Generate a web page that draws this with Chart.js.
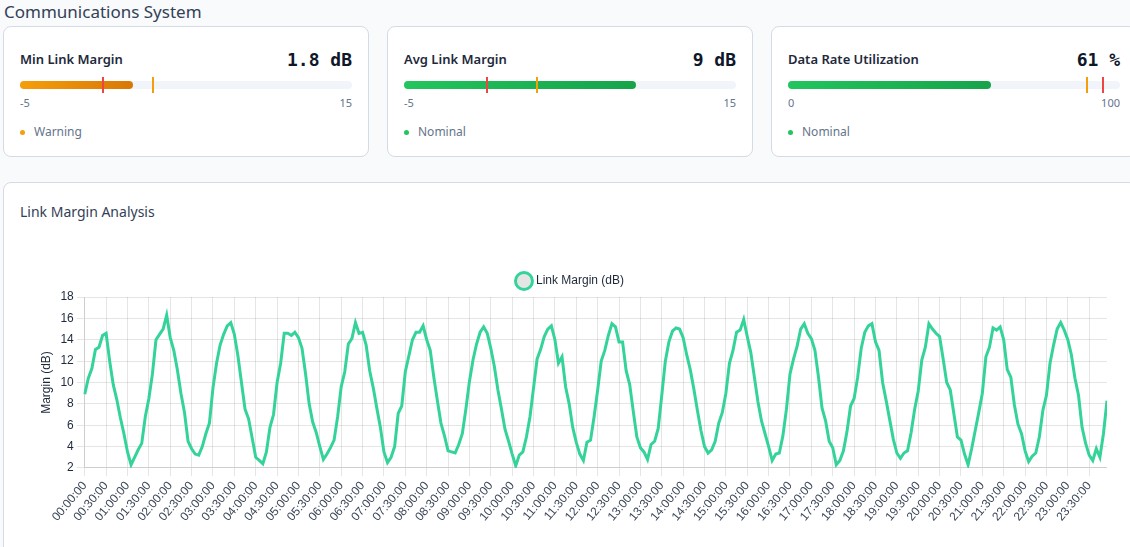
<!DOCTYPE html>
<html>
<head>
<meta charset="utf-8">
<script src="https://cdn.jsdelivr.net/npm/chart.js@4.4.0/dist/chart.umd.min.js"></script>
<style>
  html, body { margin: 0; padding: 0; background: #f8fafc; overflow: hidden; }
  body { width: 1130px; height: 547px; font-family: "Noto Sans", "Open Sans", sans-serif; }
  .page { position: relative; width: 1134px; left: 3px; }
  .head { font-size: 17px; color: #334155; height: 26px; line-height: 24px; margin-left: 1px; }
  .cards { display: flex; gap: 18px; }
  .card { box-sizing: border-box; width: 366px; height: 131px; background: #fff; border: 1px solid #d5dbe4; border-radius: 8px; padding: 20px 16px 16px 16px; }
  .row { display: flex; justify-content: space-between; align-items: center; height: 24px; }
  .name { font-size: 13px; font-weight: 600; color: #1e293b; }
  .val { font-family: "DejaVu Sans Mono", monospace; font-weight: bold; font-size: 18px; color: #0f172a; }
  .bar { position: relative; margin-top: 10px; height: 8px; border-radius: 4px; background: #f1f5f9; }
  .fill { position: absolute; left: 0; top: 0; height: 8px; border-radius: 4px; }
  .mark { position: absolute; top: -4px; width: 2px; height: 16px; }
  .scale { display: flex; justify-content: space-between; margin-top: 7px; font-size: 11px; line-height: 14px; color: #64748b; }
  .status { margin-top: 14px; font-size: 12px; line-height: 16px; color: #64748b; display: flex; align-items: center; }
  .dot { width: 5px; height: 5px; border-radius: 50%; margin-right: 9px; }
  .chartcard { box-sizing: border-box; margin-top: 25px; width: 1134px; height: 400px; background: #fff; border: 1px solid #d5dbe4; border-radius: 8px; padding: 19px 16px 16px 16px; }
  .ctitle { font-size: 14px; line-height: 20px; color: #334155; }
  .cwrap { position: relative; margin-top: 43px; margin-left: 15px; width: 1072px; height: 262px; }
</style>
</head>
<body>
<div class="page">
  <div class="head">Communications System</div>
  <div class="cards" id="cards"></div>
  <div class="chartcard">
    <div class="ctitle">Link Margin Analysis</div>
    <div class="cwrap"><canvas id="margin"></canvas></div>
  </div>
</div>
<script>
// status cards
var cardNames = ['Min Link Margin', 'Avg Link Margin', 'Data Rate Utilization'];
var cardValues = [1.8, 9, 61];
var cardUnits = ['dB', 'dB', '%'];
var cardMin = [-5, -5, 0];
var cardMax = [15, 15, 100];
var cardWarn = [3, 3, 90];
var cardCrit = [0, 0, 95];
var cardStatus = ['Warning', 'Nominal', 'Nominal'];

// link margin chart, one sample every 5 minutes
var marginValues = [
  8.9, 10.4, 11.3, 13.1, 13.3, 14.4, 14.6, 12.0, 9.8, 8.4, 6.7, 5.2,
  3.5, 2.3, 3.0, 3.7, 4.3, 6.8, 8.5, 10.8, 14.0, 14.5, 15.0, 16.3,
  14.2, 13.0, 11.2, 9.0, 7.2, 4.5, 3.8, 3.3, 3.2, 4.0, 5.2, 6.2,
  9.5, 11.8, 13.5, 14.5, 15.3, 15.6, 14.5, 12.5, 10.0, 7.5, 6.6, 4.8,
  3.0, 2.7, 2.4, 3.5, 5.8, 7.0, 10.0, 11.8, 14.6, 14.6, 14.4, 14.7,
  14.2, 13.2, 10.8, 8.0, 6.3, 5.3, 4.0, 2.8, 3.3, 3.9, 4.6, 6.8,
  9.6, 11.0, 13.6, 14.1, 15.6, 14.6, 14.7, 13.5, 11.1, 9.5, 7.6, 5.8,
  3.5, 2.5, 3.0, 4.0, 7.1, 7.8, 11.0, 12.5, 14.0, 14.7, 14.7, 15.3,
  14.0, 13.0, 10.5, 8.3, 6.2, 5.0, 3.6, 3.5, 3.4, 4.2, 5.2, 7.5,
  10.1, 12.1, 13.6, 14.7, 15.2, 14.6, 13.2, 11.5, 9.3, 7.5, 5.6, 4.5,
  3.3, 2.2, 3.2, 3.5, 4.9, 6.8, 9.5, 12.2, 13.1, 14.3, 15.0, 15.3,
  14.0, 11.8, 12.4, 9.6, 8.0, 5.8, 4.4, 3.3, 2.7, 4.4, 4.6, 6.8,
  9.3, 12.0, 13.0, 14.4, 15.5, 15.2, 13.8, 13.8, 11.1, 9.8, 7.3, 4.9,
  3.9, 3.5, 2.8, 4.2, 4.5, 5.7, 8.8, 12.0, 13.8, 14.8, 15.1, 15.0,
  14.2, 12.6, 11.2, 9.4, 7.4, 5.5, 4.0, 3.4, 3.7, 4.5, 6.2, 7.2,
  9.0, 11.8, 13.0, 14.7, 14.9, 15.9, 14.3, 12.8, 10.5, 8.2, 6.4, 5.2,
  4.0, 2.7, 3.3, 3.4, 5.0, 7.5, 10.8, 12.2, 13.4, 15.0, 15.5, 14.6,
  14.1, 13.0, 10.5, 7.6, 6.4, 4.5, 3.9, 2.3, 2.7, 3.6, 5.4, 7.8,
  8.5, 10.5, 13.2, 14.7, 15.3, 15.5, 13.8, 13.0, 10.0, 8.3, 6.5, 4.7,
  3.4, 2.9, 3.4, 3.6, 5.3, 7.5, 9.2, 12.1, 13.3, 15.5, 15.0, 14.6,
  14.3, 12.2, 10.0, 9.3, 7.1, 4.9, 4.6, 3.3, 2.3, 3.8, 5.5, 7.2,
  9.0, 12.4, 13.3, 15.1, 14.9, 15.2, 14.0, 11.2, 10.5, 7.9, 6.1, 5.2,
  3.6, 2.6, 3.1, 3.4, 4.9, 7.4, 8.8, 11.8, 13.5, 15.0, 15.6, 14.9,
  14.0, 12.6, 10.4, 8.8, 5.8, 4.3, 3.2, 2.7, 3.8, 3.0, 5.2, 8.3
];
var timeLabels = [];
for (var i = 0; i < marginValues.length; i++) {
  var h = Math.floor(i / 12), m = (i % 12) * 5;
  timeLabels.push((h < 10 ? '0' : '') + h + ':' + (m < 10 ? '0' : '') + m + ':00');
}
var yMin = 2, yMax = 18, yStep = 2;

var html = '';
for (var c = 0; c < cardNames.length; c++) {
  var span = cardMax[c] - cardMin[c];
  var pct = (cardValues[c] - cardMin[c]) / span * 100;
  var warnPct = (cardWarn[c] - cardMin[c]) / span * 100;
  var critPct = (cardCrit[c] - cardMin[c]) / span * 100;
  var isWarn = cardStatus[c] === 'Warning';
  var grad = isWarn ? 'linear-gradient(90deg,#f59e0b,#d97706)' : 'linear-gradient(90deg,#22c55e,#16a34a)';
  html += '<div class="card">'
    + '<div class="row"><span class="name">' + cardNames[c] + '</span><span class="val">' + cardValues[c] + ' ' + cardUnits[c] + '</span></div>'
    + '<div class="bar"><div class="fill" style="width:' + pct + '%;background:' + grad + '"></div>'
    + '<div class="mark" style="left:calc(' + critPct + '% - 1px);background:#ef4444"></div>'
    + '<div class="mark" style="left:calc(' + warnPct + '% - 1px);background:#f59e0b"></div></div>'
    + '<div class="scale"><span>' + cardMin[c] + '</span><span>' + cardMax[c] + '</span></div>'
    + '<div class="status"><span class="dot" style="background:' + (isWarn ? '#f59e0b' : '#22c55e') + '"></span>' + cardStatus[c] + '</div>'
    + '</div>';
}
document.getElementById('cards').innerHTML = html;

const ctx = document.getElementById('margin');
const chart = new Chart(ctx, {
  type: 'line',
  data: {
    labels: timeLabels,
    datasets: [{
      label: 'Link Margin (dB)',
      data: marginValues,
      borderColor: '#34d399',
      borderWidth: 3,
      pointRadius: 0,
      tension: 0,
      fill: false
    }]
  },
  options: {
    responsive: true,
    maintainAspectRatio: false,
    animation: false,
    plugins: {
      legend: {
        labels: { usePointStyle: true, color: '#1e293b', font: { size: 12 } }
      }
    },
    scales: {
      x: {
        ticks: {
          autoSkip: false,
          maxRotation: 50,
          minRotation: 50,
          color: '#3b4658',
          font: { size: 12 },
          callback: function (v, idx) {
            return idx % 6 === 0 ? this.getLabelForValue(v) : null;
          }
        }
      },
      y: {
        min: yMin,
        max: yMax,
        ticks: { stepSize: yStep, color: '#1e293b', font: { size: 12 } },
        title: { display: true, text: 'Margin (dB)', color: '#1e293b', font: { size: 12 } }
      }
    }
  }
});
</script>
</body>
</html>
